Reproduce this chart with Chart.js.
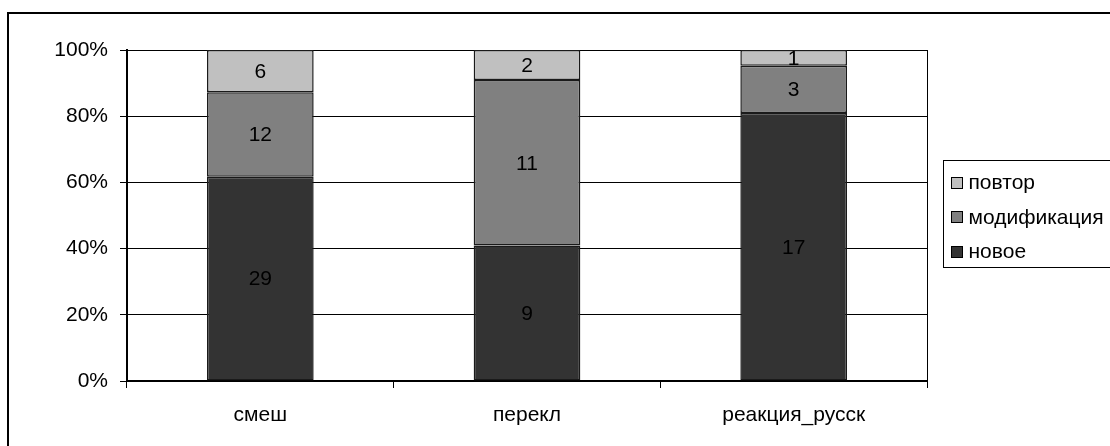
<!DOCTYPE html>
<html>
<head>
<meta charset="utf-8">
<script src="https://cdn.jsdelivr.net/npm/chart.js@4"></script>
<style>
  html, body { margin: 0; padding: 0; background: #fff; }
  canvas { display: block; }
</style>
</head>
<body>
<canvas id="chart" width="1110" height="446"></canvas>
<script>
// Categories and raw counts per category
const categories = ['смеш', 'перекл', 'реакция_русск'];
const seriesNames = ['новое', 'модификация', 'повтор'];
const countsNew = [29, 9, 17];
const countsMod = [12, 11, 3];
const countsRep = [6, 2, 1];
const seriesColors = ['#333333', '#808080', '#c0c0c0'];
const yTicks = [0, 20, 40, 60, 80, 100];

const FONT = '"Liberation Sans", Arial, sans-serif';
const FONT_SIZE = 21;

// 100% stacking: each category's counts become shares of its total
const allCounts = [countsNew, countsMod, countsRep];
const totals = categories.map((_, i) => allCounts.reduce((s, arr) => s + arr[i], 0));
const datasets = allCounts.map((arr, k) => ({
  label: seriesNames[k],
  counts: arr,
  data: arr.map((v, i) => v / totals[i] * 100),
  backgroundColor: seriesColors[k],
  borderColor: '#1a1a1a',
  borderWidth: 1.5,
  borderSkipped: false,
  barPercentage: 0.4,
  categoryPercentage: 1.0
}));

// White page with the frame's top and left edges
const framePlugin = {
  id: 'frame',
  beforeDraw(chart) {
    const ctx = chart.ctx;
    ctx.save();
    ctx.fillStyle = '#fff';
    ctx.fillRect(0, 0, chart.width, chart.height);
    ctx.strokeStyle = '#000';
    ctx.lineWidth = 2;
    ctx.beginPath();
    ctx.moveTo(8, chart.height);
    ctx.lineTo(8, 13);
    ctx.lineTo(chart.width, 13);
    ctx.stroke();
    ctx.restore();
  }
};

// Right edge of the plot area
const plotEdgePlugin = {
  id: 'plotEdge',
  beforeDatasetsDraw(chart) {
    const { ctx, chartArea } = chart;
    ctx.save();
    ctx.strokeStyle = '#000';
    ctx.lineWidth = 1;
    ctx.beginPath();
    const x = Math.round(chartArea.right) + 0.5;
    ctx.moveTo(x, chartArea.top);
    ctx.lineTo(x, chartArea.bottom);
    ctx.stroke();
    ctx.restore();
  }
};

// Count labels centred in each stacked segment
const valueLabelPlugin = {
  id: 'valueLabels',
  afterDatasetsDraw(chart) {
    const ctx = chart.ctx;
    ctx.save();
    ctx.fillStyle = '#000';
    ctx.font = FONT_SIZE + 'px ' + FONT;
    ctx.textAlign = 'center';
    ctx.textBaseline = 'middle';
    chart.data.datasets.forEach((ds, di) => {
      const meta = chart.getDatasetMeta(di);
      meta.data.forEach((bar, i) => {
        const { x, y, base } = bar.getProps(['x', 'y', 'base'], true);
        ctx.fillText(String(ds.counts[i]), x, (y + base) / 2 + 1);
      });
    });
    ctx.restore();
  }
};

// Boxed legend to the right of the plot, listed top series first
const legendBoxPlugin = {
  id: 'legendBox',
  afterDraw(chart) {
    const { ctx, chartArea } = chart;
    const bx = Math.round(chartArea.right) + 16.5;
    const by = 160.5;
    const bw = 200;
    const bh = 107;
    ctx.save();
    ctx.fillStyle = '#fff';
    ctx.fillRect(bx, by, bw, bh);
    ctx.strokeStyle = '#000';
    ctx.lineWidth = 1;
    ctx.strokeRect(bx, by, bw, bh);
    ctx.font = FONT_SIZE + 'px ' + FONT;
    ctx.textBaseline = 'middle';
    ctx.textAlign = 'left';
    const items = chart.data.datasets.slice().reverse();
    items.forEach((ds, i) => {
      const cy = by + 22 + i * 34.5;
      ctx.fillStyle = ds.backgroundColor;
      ctx.fillRect(bx + 8, Math.round(cy - 6) + 0.5, 11, 11);
      ctx.strokeStyle = '#000';
      ctx.strokeRect(bx + 8, Math.round(cy - 6) + 0.5, 11, 11);
      ctx.fillStyle = '#000';
      ctx.fillText(ds.label, bx + 25, cy + 1);
    });
    ctx.restore();
  }
};

Chart.defaults.font.family = FONT;
Chart.defaults.font.size = FONT_SIZE;
Chart.defaults.color = '#000';

new Chart(document.getElementById('chart'), {
  type: 'bar',
  data: { labels: categories, datasets },
  options: {
    responsive: false,
    animation: false,
    devicePixelRatio: 1,
    layout: { padding: { left: 0, top: 50, right: 183, bottom: 0 } },
    plugins: {
      legend: { display: false },
      tooltip: { enabled: false }
    },
    scales: {
      x: {
        stacked: true,
        offset: true,
        grid: {
          offset: true,
          drawOnChartArea: false,
          drawTicks: true,
          tickLength: 7,
          color: '#000',
          lineWidth: 1
        },
        border: { display: true, color: '#000', width: 2 },
        ticks: { padding: 15, maxRotation: 0, autoSkip: false },
        afterFit(scale) { scale.height = 65; }
      },
      y: {
        stacked: true,
        min: 0,
        max: 100,
        afterBuildTicks(scale) { scale.ticks = yTicks.map(v => ({ value: v })); },
        ticks: {
          padding: 12,
          callback: v => v + '%'
        },
        grid: {
          drawTicks: true,
          tickLength: 7,
          color: '#000',
          lineWidth: 1
        },
        border: { display: true, color: '#000', width: 2 },
        afterFit(scale) { scale.width = 127; }
      }
    }
  },
  plugins: [framePlugin, plotEdgePlugin, valueLabelPlugin, legendBoxPlugin]
});
</script>
</body>
</html>
